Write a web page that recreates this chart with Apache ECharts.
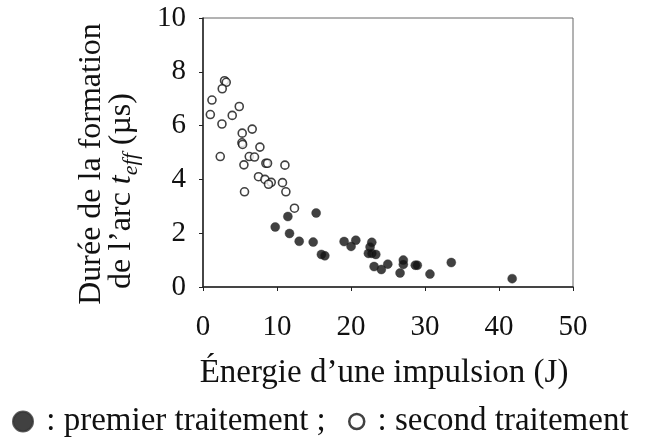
<!DOCTYPE html>
<html>
<head>
<meta charset="utf-8">
<script src="https://cdn.jsdelivr.net/npm/echarts@6/dist/echarts.min.js"></script>
<style>
html,body{margin:0;padding:0;background:#fff;}
#chart{width:645px;height:439px;}
</style>
</head>
<body>
<div id="chart"></div>
<script>
// Premier traitement (filled markers)
const energyFirst = [15.29, 11.47, 9.76, 11.69, 13.0, 14.89, 16.0, 16.46, 19.07, 20.01, 20.65, 22.81, 22.58, 22.35, 22.81, 23.35, 23.12, 24.1, 24.97, 26.63, 27.07, 27.07, 28.69, 28.96, 30.67, 33.55, 41.78];
const durationFirst = [2.75, 2.62, 2.23, 1.99, 1.70, 1.67, 1.21, 1.16, 1.69, 1.51, 1.74, 1.66, 1.49, 1.25, 1.25, 1.21, 0.76, 0.65, 0.85, 0.52, 1.00, 0.84, 0.81, 0.81, 0.48, 0.91, 0.31];
// Second traitement (open markers)
const energySecond = [2.91, 3.14, 2.60, 1.21, 4.90, 0.99, 3.95, 2.56, 6.65, 5.30, 5.26, 5.35, 7.69, 2.33, 6.25, 6.96, 5.53, 8.50, 8.72, 11.07, 7.50, 8.37, 9.22, 8.85, 10.74, 11.20, 5.61, 12.36];
const durationSecond = [7.67, 7.61, 7.37, 6.95, 6.71, 6.41, 6.38, 6.06, 5.87, 5.72, 5.36, 5.30, 5.20, 4.85, 4.85, 4.83, 4.54, 4.60, 4.60, 4.53, 4.10, 4.00, 3.89, 3.82, 3.88, 3.54, 3.54, 2.93];

const xTicks = [0, 10, 20, 30, 40, 50];
const yTicks = [0, 2, 4, 6, 8, 10];
const seriesNames = ['premier traitement', 'second traitement'];
const xTitle = 'Énergie d\u2019une impulsion (J)';
const yTitleLine1 = 'Durée de la formation';

const FONT = '"Liberation Serif", "DejaVu Serif", serif';

function pairs(xs, ys) { return xs.map((x, i) => [x, ys[i]]); }

const chart = echarts.init(document.getElementById('chart'), null, {renderer: 'canvas'});
chart.setOption({
  animation: false,
  backgroundColor: '#fff',
  grid: {left: 203, right: 72, top: 18, bottom: 152, show: true, borderColor: '#666', borderWidth: 1},
  xAxis: {
    type: 'value', min: xTicks[0], max: xTicks[xTicks.length - 1], interval: 10,
    name: xTitle, nameLocation: 'middle', nameGap: 70,
    nameTextStyle: {fontFamily: FONT, fontSize: 33, color: '#111', padding: [0, 8, 0, 0]},
    axisLine: {lineStyle: {color: '#222', width: 1.5}},
    axisTick: {show: true, inside: false, length: 4, lineStyle: {color: '#222'}},
    axisLabel: {fontFamily: FONT, fontSize: 29, color: '#111', margin: 26},
    splitLine: {show: false}
  },
  yAxis: {
    type: 'value', min: yTicks[0], max: yTicks[yTicks.length - 1], interval: 2,
    axisLine: {show: true, lineStyle: {color: '#222', width: 1.5}},
    axisTick: {show: true, inside: false, length: 4, lineStyle: {color: '#222'}},
    axisLabel: {fontFamily: FONT, fontSize: 29, color: '#111', margin: 17},
    splitLine: {show: false}
  },
  legend: [
    {
      data: [seriesNames[0]], left: 12, top: 405, padding: 0, itemWidth: 20, itemHeight: 20, icon: 'circle',
      formatter: n => ' : ' + n + ' ;',
      textStyle: {fontFamily: FONT, fontSize: 33, color: '#111'}
    },
    {
      data: [seriesNames[1]], left: 348, top: 405, padding: 0, itemWidth: 15, itemHeight: 15, icon: 'circle',
      itemStyle: {borderWidth: 2.5, borderColor: '#111', color: '#fff'},
      formatter: n => ' : ' + n,
      textStyle: {fontFamily: FONT, fontSize: 33, color: '#111'}
    }
  ],
  graphic: [
    {
      type: 'text', x: 92, y: 164, rotation: Math.PI / 2,
      style: {text: yTitleLine1, font: '32px ' + FONT, fill: '#111', align: 'center', verticalAlign: 'middle'}
    },
    {
      type: 'text', x: 122, y: 191, rotation: Math.PI / 2,
      style: {
        text: 'de l\u2019arc {i|t}{s|eff} (µs)',
        font: '32px ' + FONT, fill: '#111', align: 'center', verticalAlign: 'middle',
        rich: {
          i: {fontFamily: FONT, fontSize: 32, fontStyle: 'italic', fill: '#111', verticalAlign: 'middle', lineHeight: 40},
          s: {fontFamily: FONT, fontSize: 22, fontStyle: 'italic', fill: '#111', verticalAlign: 'bottom', lineHeight: 40}
        }
      }
    }
  ],
  series: [
    {
      name: seriesNames[0], type: 'scatter', data: pairs(energyFirst, durationFirst),
      symbol: 'circle', symbolSize: 9,
      itemStyle: {color: '#111', borderColor: '#333', borderWidth: 0.5}
    },
    {
      name: seriesNames[1], type: 'scatter', data: pairs(energySecond, durationSecond),
      symbol: 'circle', symbolSize: 8,
      itemStyle: {color: '#fff', borderColor: '#111', borderWidth: 1.6}
    }
  ]
});
</script>
</body>
</html>
